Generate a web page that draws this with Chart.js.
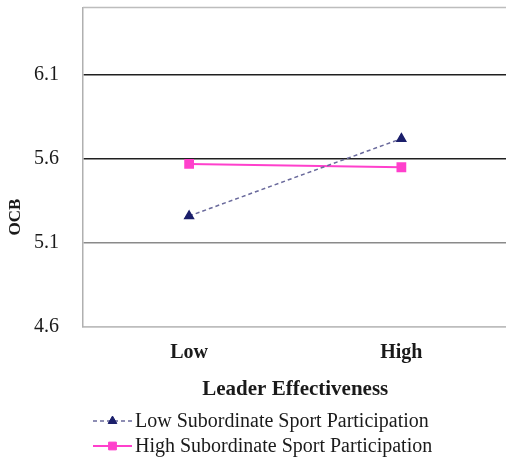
<!DOCTYPE html>
<html>
<head>
<meta charset="utf-8">
<script src="https://cdn.jsdelivr.net/npm/chart.js@4"></script>
<style>
  html, body { margin: 0; padding: 0; background: #fff; overflow: hidden; }
  canvas { display: block; }
</style>
</head>
<body>
<canvas id="chart" width="515" height="460"></canvas>
<script>
// data
var categories = ['Low', 'High'];
var lowSportValues = [5.26, 5.72];
var highSportValues = [5.57, 5.55];
var yTicks = [4.6, 5.1, 5.6, 6.1];
var seriesNames = ['Low Subordinate Sport Participation', 'High Subordinate Sport Participation'];
var xTitle = 'Leader Effectiveness';
var yTitle = 'OCB';

var serif = '"Liberation Serif", "Times New Roman", serif';
var textColor = '#1a1a1a';

// colours of the horizontal lines
var gridColors = { '4.6': '#bdbdbd', '5.1': '#8a8a8a', '5.6': '#202020', '6.1': '#202020' };

// top border, rotated y title and the legend below the chart
var extras = {
  id: 'extras',
  afterDraw: function(chart) {
    var ctx = chart.ctx;
    var area = chart.chartArea;
    ctx.save();
    ctx.strokeStyle = '#bdbdbd';
    ctx.lineWidth = 1.5;
    ctx.beginPath();
    ctx.moveTo(area.left, area.top);
    ctx.lineTo(area.right, area.top);
    ctx.stroke();

    // y title
    ctx.fillStyle = textColor;
    ctx.font = 'bold 17px ' + serif;
    ctx.textAlign = 'center';
    ctx.textBaseline = 'middle';
    ctx.translate(16, 217);
    ctx.rotate(-Math.PI / 2);
    ctx.fillText(yTitle, 0, 0);
    ctx.restore();

    // legend
    ctx.save();
    chart.data.datasets.forEach(function(ds, i) {
      var y = chart.height - 39 + i * 25;
      var x0 = 93, x1 = 132;
      ctx.strokeStyle = ds.borderColor;
      ctx.lineWidth = ds.borderWidth;
      ctx.setLineDash(ds.borderDash || []);
      ctx.beginPath();
      ctx.moveTo(x0, y);
      ctx.lineTo(x1, y);
      ctx.stroke();
      ctx.setLineDash([]);
      ctx.fillStyle = ds.pointBackgroundColor;
      ctx.strokeStyle = ds.pointBorderColor;
      ctx.lineWidth = 1;
      Chart.helpers.drawPoint(ctx, { pointStyle: ds.pointStyle, radius: ds.pointRadius, borderWidth: 1, rotation: 0 }, (x0 + x1) / 2, y);
      ctx.fillStyle = textColor;
      ctx.font = '20px ' + serif;
      ctx.textAlign = 'left';
      ctx.textBaseline = 'middle';
      ctx.fillText(ds.label, x1 + 3, y + 1);
    });
    ctx.restore();
  }
};

var ctx = document.getElementById('chart').getContext('2d');
window.myChart = new Chart(ctx, {
  type: 'line',
  data: {
    labels: categories,
    datasets: [
      {
        label: seriesNames[0],
        data: lowSportValues,
        borderColor: '#6a6a9c',
        borderWidth: 1.5,
        borderDash: [4, 3],
        pointStyle: 'triangle',
        pointRadius: 5,
        pointBackgroundColor: '#1b1f6b',
        pointBorderColor: '#1b1f6b',
        fill: false
      },
      {
        label: seriesNames[1],
        data: highSportValues,
        borderColor: '#ff40cc',
        borderWidth: 2,
        pointStyle: 'rect',
        pointRadius: 5.5,
        pointBackgroundColor: '#ff40cc',
        pointBorderColor: '#ff40cc',
        fill: false
      }
    ]
  },
  options: {
    responsive: false,
    animation: false,
    layout: { padding: { top: 6, left: 0, right: 0, bottom: 58 } },
    plugins: {
      legend: { display: false },
      tooltip: { enabled: false }
    },
    scales: {
      x: {
        offset: true,
        grid: { display: false, drawTicks: false },
        border: { color: '#bdbdbd', width: 1.5 },
        ticks: { color: textColor, padding: 14, font: { family: serif, size: 20, weight: 'bold' } },
        title: {
          display: true,
          text: xTitle,
          color: textColor,
          padding: { top: 0, bottom: 0 },
          font: { family: serif, size: 21, weight: 'bold' }
        },
        afterFit: function(scale) {
          scale.height = 75;
          scale.paddingLeft = 0;
          scale.paddingRight = 0;
        }
      },
      y: {
        min: 4.6,
        max: 6.5,
        afterBuildTicks: function(scale) {
          scale.ticks = yTicks.map(function(v) { return { value: v }; });
        },
        grid: {
          drawTicks: false,
          lineWidth: 1.5,
          color: function(c) { return gridColors[c.tick.value.toFixed(1)] || '#888'; }
        },
        border: { color: '#b0b0b0', width: 1.5 },
        ticks: {
          color: textColor,
          padding: 24,
          font: { family: serif, size: 20 },
          callback: function(v) { return Number(v).toFixed(1); }
        },
        afterFit: function(scale) {
          scale.width = 83;
          scale.paddingTop = 0;
          scale.paddingBottom = 0;
        }
      }
    }
  },
  plugins: [extras]
});
</script>
</body>
</html>
